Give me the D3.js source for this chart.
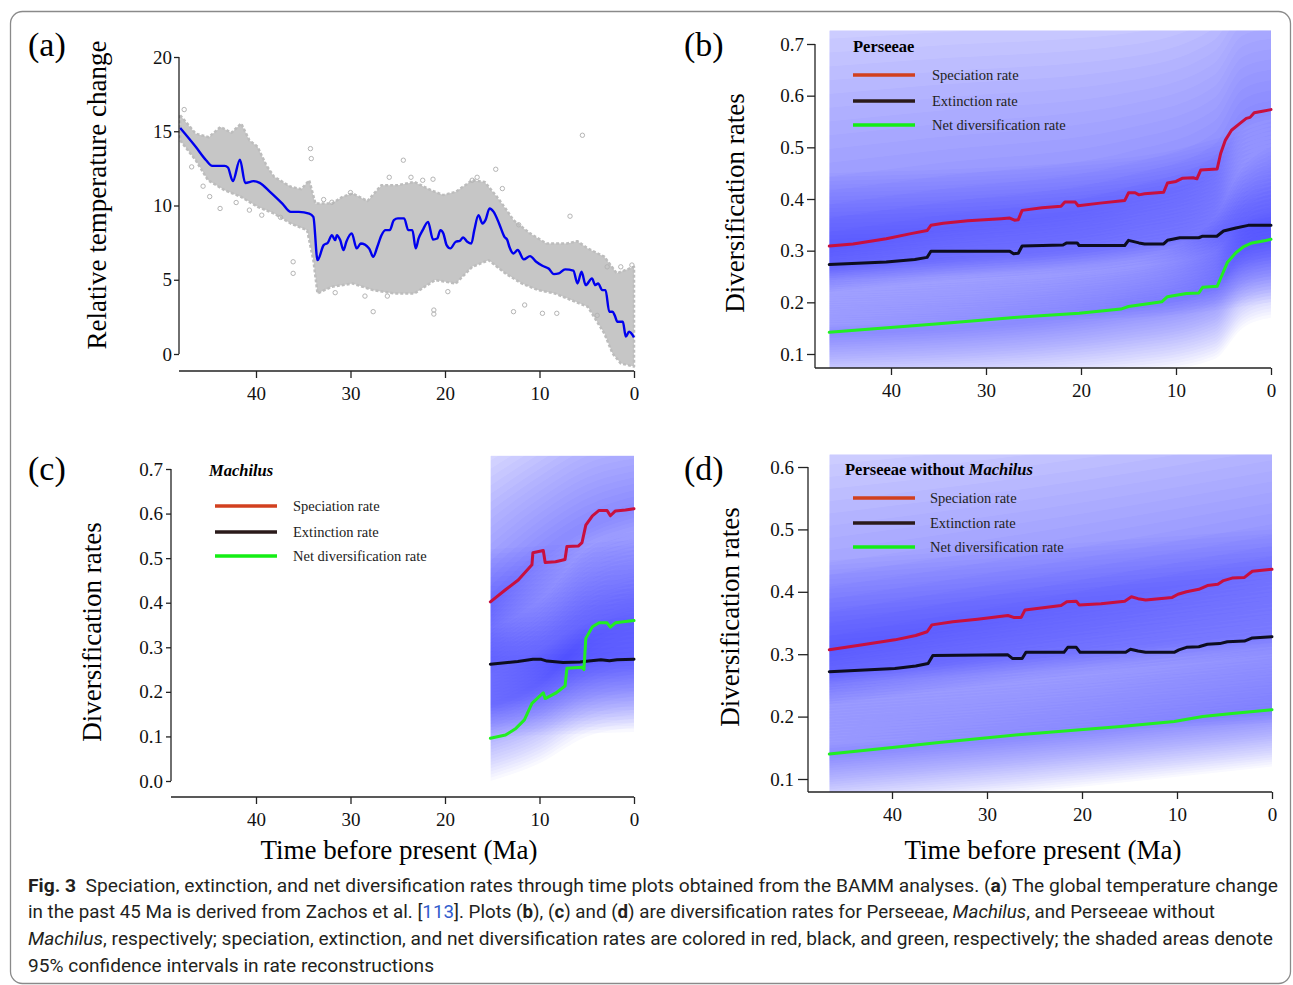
<!DOCTYPE html>
<html lang="en">

<head>
	<meta charset="UTF-8">
	<title>Diversification rates through time</title>
	<script src="https://d3js.org/d3.v7.min.js"></script>
	<style>
		body { margin: 0; background: #fff; }
		svg { display: block; }
	</style>
</head>

<body>
	<script>
		const width = 1293;
		const height = 985;
		const serif = "'Liberation Serif','Times New Roman',serif";
		const sans = "'Liberation Sans Narrow','Roboto','Liberation Sans',sans-serif";

		// ---- (a) temperature: [Ma, relative change]
		const tempSmooth = [
			[48.03, 15.22], [46.38, 13.95], [45.28, 13.05], [44.63, 12.67], [43.32, 12.67], [42.97, 12.56],
			[42.45, 11.64], [41.70, 13.09], [41.14, 11.52], [40.26, 11.64], [39.61, 11.52], [38.52, 10.92],
			[37.21, 10.13], [36.33, 9.57], [35.46, 9.57], [34.37, 9.46], [33.93, 9.24], [33.49, 6.32],
			[32.84, 7.33], [32.40, 7.49], [31.97, 8.00], [31.62, 7.67], [31.44, 8.00], [31.09, 7.67],
			[30.74, 7.00], [30.44, 7.56], [29.87, 8.12], [29.34, 7.11], [28.91, 7.44], [28.03, 7.11],
			[27.60, 6.55], [27.16, 7.22], [26.72, 8.00], [26.29, 8.34], [25.85, 8.34], [25.41, 9.01],
			[24.98, 9.13], [24.32, 9.13], [23.89, 8.34], [23.45, 8.34], [23.10, 7.11], [22.79, 7.78],
			[22.36, 8.34], [21.79, 8.90], [21.27, 7.71], [20.83, 7.78], [20.48, 8.34], [20.17, 8.12],
			[19.83, 7.33], [19.43, 7.11], [18.86, 7.56], [18.43, 7.62], [18.08, 7.85], [17.64, 7.56],
			[17.21, 7.44], [16.90, 8.34], [16.46, 9.35], [16.03, 8.79], [15.72, 9.01], [15.28, 9.80],
			[14.85, 9.57], [14.28, 8.79], [13.71, 7.89], [13.41, 7.67], [13.19, 7.22], [12.75, 6.77],
			[12.31, 7.00], [11.66, 6.37], [11.00, 6.59], [10.35, 6.21], [9.69, 5.94], [9.04, 5.76],
			[8.47, 5.38], [7.95, 5.43], [7.29, 5.70], [6.42, 5.61], [5.98, 4.75], [5.55, 5.54],
			[5.11, 4.64], [4.45, 5.09], [4.10, 4.64], [3.80, 4.75], [3.36, 4.30], [3.01, 4.30],
			[2.62, 2.85], [2.27, 2.85], [2.05, 2.62], [1.75, 2.17], [1.18, 2.17], [0.87, 1.17],
			[0.52, 1.50], [0.00, 1.12]
		];
		const tempCloudUpper = [
			[48.03, 16.08], [46.38, 14.84], [45.0, 14.6], [43.76, 15.29], [42.6, 14.9], [41.57, 15.52],
			[40.70, 14.39], [39.83, 13.95], [38.9, 12.7], [38.08, 11.93], [36.33, 11.26], [35.2, 11.1],
			[34.37, 11.70], [33.71, 10.13], [31.97, 10.13], [30.8, 10.6], [29.78, 10.81], [28.2, 10.3],
			[26.72, 11.37], [24.98, 11.37], [23.23, 11.59], [21.48, 11.03], [20.2, 10.7], [18.86, 10.92],
			[17.12, 11.70], [15.81, 11.59], [14.50, 10.58], [13.6, 9.8], [12.75, 9.01], [11.00, 8.12],
			[9.26, 7.44], [7.07, 7.44], [6.0, 7.6], [4.89, 7.11], [3.14, 6.55], [1.83, 5.43], [0, 5.87]
		];
		const tempCloudLower = [
			[48.03, 14.39], [46.38, 13.05], [45.07, 11.70], [43.32, 11.03], [41.57, 10.58], [39.83, 9.91],
			[38.08, 9.46], [36.33, 8.79], [34.59, 8.34], [33.93, 6.32], [33.49, 4.08], [31.97, 4.53],
			[29.78, 4.75], [27.60, 4.30], [25.41, 4.08], [23.23, 4.08], [21.05, 4.98], [18.86, 4.75],
			[17.12, 5.87], [15.37, 6.32], [13.62, 5.43], [11.88, 4.75], [10.13, 4.30], [8.38, 4.08],
			[6.64, 3.63], [4.89, 3.18], [3.14, 1.39], [2.27, 0.04], [1.40, -0.63], [0, -0.85]
		];
		const tempOutliers = [
			[47.60, 16.46], [34.24, 13.83], [34.15, 13.16], [36.07, 6.21], [36.07, 5.43], [24.41, 13.05],
			[14.63, 12.44], [5.46, 14.73], [6.77, 9.28], [27.60, 2.85], [21.18, 2.96], [21.18, 2.69],
			[11.57, 3.30], [12.75, 2.85], [8.17, 2.74], [9.69, 2.74], [31.62, 4.13], [28.47, 3.90],
			[43.80, 9.80], [46.81, 12.60], [40.70, 9.69], [39.39, 9.35], [32.84, 10.40], [31.97, 10.22],
			[30.00, 10.87], [22.36, 11.70], [21.27, 11.77], [17.12, 11.70], [13.93, 11.14], [2.84, 5.87],
			[1.40, 5.87], [0.22, 5.99], [44.9, 10.6], [45.6, 11.3], [42.1, 10.2], [37.4, 9.2],
			[25.9, 11.9], [23.6, 11.9], [16.6, 11.9], [12.2, 8.7], [26.1, 3.9], [19.7, 4.2], [3.9, 2.6]
		];
		const tempTicksY = [0, 5, 10, 15, 20];
		const timeTicks = [40, 30, 20, 10, 0];

		// ---- (b) Perseeae: [Ma, rate]
		const bSpeciation = [
			[46.5, 0.309], [44.0, 0.313], [40.5, 0.323], [37.9, 0.333], [36.2, 0.339], [35.8, 0.349],
			[34.5, 0.353], [31.9, 0.358], [28.4, 0.362], [27.5, 0.363], [27.0, 0.359], [26.6, 0.360],
			[26.2, 0.378], [24.1, 0.383], [22.1, 0.386], [21.7, 0.394], [20.6, 0.394], [20.3, 0.387],
			[18.0, 0.392], [15.4, 0.397], [15.0, 0.412], [14.3, 0.412], [13.9, 0.408], [13.3, 0.410],
			[11.3, 0.413], [10.9, 0.431], [10.0, 0.434], [9.35, 0.440], [8.2, 0.441], [7.8, 0.439],
			[7.4, 0.456], [5.67, 0.458], [5.3, 0.488], [4.8, 0.514], [4.16, 0.533], [3.3, 0.546],
			[2.6, 0.556], [2.2, 0.558], [1.77, 0.567], [0.9, 0.570], [0, 0.573]
		];
		const bExtinction = [
			[46.5, 0.273], [40.5, 0.278], [37.5, 0.283], [36.2, 0.287], [35.8, 0.299], [27.5, 0.299],
			[27.1, 0.294], [26.6, 0.295], [26.2, 0.309], [21.9, 0.311], [21.5, 0.315], [20.4, 0.315],
			[20.2, 0.310], [15.4, 0.310], [15.0, 0.320], [13.9, 0.315], [13.3, 0.313], [11.3, 0.313],
			[10.9, 0.320], [9.6, 0.325], [7.6, 0.325], [7.2, 0.328], [5.7, 0.328], [5.0, 0.338],
			[3.7, 0.344], [2.4, 0.349], [0, 0.349]
		];
		const bNetDiv = [
			[46.5, 0.142], [35.3, 0.158], [26.7, 0.171], [20.2, 0.179], [15.8, 0.187], [15.0, 0.192],
			[11.5, 0.201], [10.9, 0.211], [8.9, 0.217], [7.6, 0.218], [7.2, 0.229], [5.67, 0.231],
			[5.2, 0.251], [4.6, 0.277], [3.7, 0.296], [2.86, 0.308], [2.0, 0.315], [0.7, 0.319], [0, 0.322]
		];
		// 95% CI: [Ma, lower, densest, upper]
		const bSpeciationCI = [[46.5, 0.22, 0.31, 0.95], [36, 0.24, 0.34, 0.95], [15, 0.27, 0.40, 0.95], [6, 0.30, 0.46, 1.0], [3, 0.36, 0.55, 1.05], [0, 0.38, 0.57, 1.05]];
		const bExtinctionCI = [[46.5, 0.16, 0.27, 0.45], [15, 0.17, 0.31, 0.48], [0, 0.20, 0.35, 0.55]];
		const bNetDivCI = [[46.5, 0.03, 0.14, 0.24], [15, 0.06, 0.19, 0.28], [6, 0.09, 0.23, 0.36], [3, 0.15, 0.30, 0.46], [0, 0.17, 0.32, 0.50]];
		const bTicksY = [0.1, 0.2, 0.3, 0.4, 0.5, 0.6, 0.7];

		// ---- (c) Machilus
		const cSpeciation = [
			[15.2, 0.402], [13.6, 0.429], [12.25, 0.451], [10.8, 0.485], [10.7, 0.512], [9.6, 0.517],
			[9.4, 0.490], [8.3, 0.492], [7.3, 0.497], [7.1, 0.526], [5.9, 0.527], [5.5, 0.535],
			[5.1, 0.574], [4.4, 0.595], [3.7, 0.607], [2.85, 0.607], [2.5, 0.595], [1.97, 0.606],
			[0.9, 0.608], [0, 0.611]
		];
		const cExtinction = [
			[15.2, 0.262], [12.3, 0.268], [10.7, 0.273], [9.8, 0.273], [9.2, 0.269], [7.5, 0.266],
			[5.7, 0.267], [5.3, 0.268], [3.5, 0.272], [2.6, 0.270], [1.8, 0.272], [0, 0.273]
		];
		const cNetDiv = [
			[15.2, 0.096], [13.6, 0.103], [12.5, 0.118], [11.6, 0.137], [10.8, 0.174], [9.6, 0.198],
			[9.4, 0.185], [8.3, 0.197], [7.3, 0.213], [7.1, 0.253], [5.5, 0.255], [5.3, 0.250],
			[5.1, 0.320], [4.4, 0.346], [3.7, 0.355], [2.85, 0.355], [2.5, 0.345], [1.97, 0.355],
			[0.9, 0.358], [0, 0.360]
		];
		const cSpeciationCI = [[15.2, 0.24, 0.40, 0.85], [10, 0.30, 0.50, 0.90], [5, 0.36, 0.57, 0.95], [0, 0.38, 0.61, 0.95]];
		const cExtinctionCI = [[15.2, 0.10, 0.27, 0.52], [0, 0.11, 0.28, 0.54]];
		const cNetDivCI = [[15.2, 0.0, 0.17, 0.34], [10, 0.04, 0.22, 0.40], [5, 0.10, 0.32, 0.52], [0, 0.12, 0.36, 0.56]];
		const cTicksY = [0.0, 0.1, 0.2, 0.3, 0.4, 0.5, 0.6, 0.7];

		// ---- (d) Perseeae without Machilus
		const dSpeciation = [
			[46.6, 0.307], [43.1, 0.315], [39.7, 0.323], [37.5, 0.330], [36.3, 0.336], [35.8, 0.347],
			[33.6, 0.352], [31.0, 0.356], [27.8, 0.362], [27.2, 0.359], [26.4, 0.359], [26.0, 0.371],
			[22.2, 0.378], [21.6, 0.384], [20.6, 0.385], [20.3, 0.379], [18.0, 0.381], [15.5, 0.385],
			[14.8, 0.392], [14.1, 0.389], [13.3, 0.387], [10.5, 0.391], [9.9, 0.396], [9.0, 0.400],
			[7.7, 0.404], [6.8, 0.410], [5.7, 0.412], [5.1, 0.418], [4.2, 0.422], [2.9, 0.423],
			[2.07, 0.433], [0, 0.436]
		];
		const dExtinction = [
			[46.6, 0.272], [39.7, 0.277], [37.5, 0.281], [36.2, 0.285], [35.7, 0.298], [27.8, 0.299],
			[27.3, 0.293], [26.3, 0.293], [25.9, 0.303], [21.9, 0.303], [21.5, 0.311], [20.6, 0.311],
			[20.2, 0.303], [15.4, 0.303], [14.9, 0.308], [14.1, 0.305], [13.3, 0.303], [10.3, 0.303],
			[9.8, 0.307], [9.0, 0.311], [7.7, 0.312], [6.8, 0.316], [5.5, 0.317], [4.7, 0.320],
			[2.9, 0.321], [2.07, 0.326], [0, 0.328]
		];
		const dNetDiv = [
			[46.6, 0.140], [39.7, 0.151], [35.3, 0.158], [26.7, 0.171], [20.2, 0.179], [15.9, 0.184],
			[10.3, 0.192], [7.3, 0.200], [4.2, 0.205], [0, 0.211]
		];
		const dSpeciationCI = [[46.6, 0.22, 0.31, 0.78], [25, 0.26, 0.37, 0.80], [0, 0.30, 0.44, 0.85]];
		const dExtinctionCI = [[46.6, 0.16, 0.27, 0.45], [0, 0.19, 0.33, 0.50]];
		const dNetDivCI = [[46.6, 0.05, 0.14, 0.25], [25, 0.08, 0.17, 0.27], [0, 0.12, 0.21, 0.31]];
		const dTicksY = [0.1, 0.2, 0.3, 0.4, 0.5, 0.6];

		const legendLabels = ["Speciation rate", "Extinction rate", "Net diversification rate"];
		const lineColors = ["#c8103e", "#0d0d1f", "#22ee22"];
		const legendColors = ["#d2401f", "#2a1a1a", "#14ee14"];

		const svg = d3.select("body").append("svg")
			.attr("width", width)
			.attr("height", height);

		// outer frame
		svg.append("rect")
			.attr("x", 10.5).attr("y", 11.5)
			.attr("width", 1280).attr("height", 972)
			.attr("rx", 12)
			.attr("fill", "none")
			.attr("stroke", "#8a8a8a")
			.attr("stroke-width", 1.3);

		function panelLabel(txt, x, y) {
			svg.append("text")
				.attr("x", x).attr("y", y)
				.attr("font-family", serif)
				.attr("font-size", 34)
				.text(txt);
		}

		function styleAxis(sel) {
			sel.attr("font-family", serif).attr("font-size", 19);
			sel.select(".domain").remove();
			sel.selectAll(".tick line").attr("stroke", "#222").attr("stroke-width", 1.3);
			sel.selectAll(".tick text").attr("fill", "#111");
		}

		function drawAxes(x, y, opt) {
			const gy = svg.append("g")
				.attr("transform", `translate(${opt.yAxisX},0)`)
				.call(d3.axisLeft(y).tickValues(opt.yTicks).tickSize(opt.yTick).tickPadding(opt.yPad)
					.tickFormat(opt.yFormat));
			styleAxis(gy);
			svg.append("line")
				.attr("x1", opt.yAxisX).attr("x2", opt.yAxisX)
				.attr("y1", y(d3.max(opt.yTicks))).attr("y2", opt.yAxisBottom)
				.attr("stroke", "#222").attr("stroke-width", 1.3);

			const gx = svg.append("g")
				.attr("transform", `translate(0,${opt.xAxisY})`)
				.call(d3.axisBottom(x).tickValues(timeTicks).tickSize(7).tickPadding(8.5));
			styleAxis(gx);
			svg.append("line")
				.attr("x1", opt.yAxisX).attr("x2", x(0))
				.attr("y1", opt.xAxisY).attr("y2", opt.xAxisY)
				.attr("stroke", "#222").attr("stroke-width", 1.3);
		}

		function yTitle(txt, x, y) {
			svg.append("text")
				.attr("transform", `translate(${x},${y}) rotate(-90)`)
				.attr("text-anchor", "middle")
				.attr("font-family", serif)
				.attr("font-size", 27)
				.text(txt);
		}

		function xTitle(x, y) {
			svg.append("text")
				.attr("x", x).attr("y", y)
				.attr("text-anchor", "middle")
				.attr("font-family", serif)
				.attr("font-size", 27)
				.text("Time before present (Ma)");
		}

		// ---------- panel (a)
		const xA = d3.scaleLinear().domain([0, 40]).range([634, 256]);
		const yA = d3.scaleLinear().domain([0, 20]).range([354, 57]);

		const cloud = tempCloudUpper.concat(tempCloudLower.slice().reverse());
		svg.append("path")
			.datum(cloud)
			.attr("d", d3.line().x(d => xA(d[0])).y(d => yA(d[1])).curve(d3.curveLinearClosed))
			.attr("fill", "#c6c6c6")
			.attr("stroke", "#bdbdbd")
			.attr("stroke-width", 2.5)
			.attr("stroke-dasharray", "3 2")
			.attr("stroke-linejoin", "round");

		svg.append("g")
			.selectAll("circle")
			.data(tempOutliers)
			.enter().append("circle")
			.attr("cx", d => xA(d[0]))
			.attr("cy", d => yA(d[1]))
			.attr("r", 2.2)
			.attr("fill", "none")
			.attr("stroke", "#b4b4b4")
			.attr("stroke-width", 1);

		svg.append("path")
			.datum(tempSmooth)
			.attr("d", d3.line().x(d => xA(d[0])).y(d => yA(d[1])).curve(d3.curveMonotoneX))
			.attr("fill", "none")
			.attr("stroke", "#0000ee")
			.attr("stroke-width", 2.4);

		drawAxes(xA, yA, {
			yAxisX: 179, yAxisBottom: yA(0), xAxisY: 371, yTick: 5, yPad: 2,
			yTicks: tempTicksY, yFormat: d3.format("d")
		});
		yTitle("Relative temperature change", 106, 195);
		panelLabel("(a)", 28, 56);

		// ---------- rate panels
		const K = 24;
		const bandAlpha = 1 - Math.pow(0.5, 1 / K);

		function ratePanel(p) {
			const x = d3.scaleLinear().domain([0, 40]).range([p.x0, p.x40]);
			const y = d3.scaleLinear().domain(p.yDom).range(p.yRange);

			svg.append("clipPath").attr("id", "clip-" + p.id)
				.append("rect")
				.attr("x", x(p.tStart)).attr("y", y(p.vTop))
				.attr("width", x(0) - x(p.tStart))
				.attr("height", p.xAxisY - y(p.vTop));

			const shade = svg.append("g").attr("clip-path", `url(#clip-${p.id})`);
			p.cis.forEach(ci => {
				for (let k = 1; k <= K; k++) {
					const f = k / K;
					shade.append("path")
						.datum(ci)
						.attr("d", d3.area()
							.curve(d3.curveMonotoneX)
							.x(d => x(d[0]))
							.y0(d => y(d[2] - (d[2] - d[1]) * f))
							.y1(d => y(d[2] + (d[3] - d[2]) * f)))
						.attr("fill", "#1f1fee")
						.attr("fill-opacity", bandAlpha);
				}
			});

			p.series.forEach((s, i) => {
				svg.append("path")
					.datum(s)
					.attr("d", d3.line().x(d => x(d[0])).y(d => y(d[1])))
					.attr("fill", "none")
					.attr("stroke", lineColors[i])
					.attr("stroke-width", 3)
					.attr("stroke-linejoin", "round")
					.attr("stroke-linecap", "round");
			});

			drawAxes(x, y, {
				yAxisX: p.yAxisX, yAxisBottom: p.yAxisBottom, xAxisY: p.xAxisY,
				yTick: p.yTick, yPad: p.yPad,
				yTicks: p.yTicks, yFormat: d3.format(".1f")
			});

			// legend
			const title = svg.append("text")
				.attr("x", p.legX).attr("y", p.legTitleY)
				.attr("font-family", serif)
				.attr("font-size", 16.5)
				.attr("font-weight", "bold");
			p.title.forEach(part => {
				title.append("tspan").attr("font-style", part.italic ? "italic" : "normal").text(part.text);
			});
			const leg = svg.append("g").selectAll("g")
				.data(legendLabels)
				.enter().append("g")
				.attr("transform", (d, i) => `translate(${p.legLineX},${p.legRows[i]})`);
			leg.append("line")
				.attr("x1", 0).attr("x2", 62)
				.attr("stroke", (d, i) => legendColors[i])
				.attr("stroke-width", 3.5);
			leg.append("text")
				.attr("x", p.legTextX - p.legLineX)
				.attr("y", 5)
				.attr("font-family", serif)
				.attr("font-size", 14.5)
				.attr("fill", "#222")
				.text(d => d);
		}

		ratePanel({
			id: "b", x0: 1271, x40: 891, yDom: [0.1, 0.7], yRange: [354, 44],
			tStart: 46.5, vTop: 0.726, xAxisY: 368, yAxisX: 815, yAxisBottom: 368,
			yTick: 8, yPad: 3, yTicks: bTicksY,
			cis: [bSpeciationCI, bExtinctionCI, bNetDivCI],
			series: [bSpeciation, bExtinction, bNetDiv],
			title: [{ text: "Perseeae" }], legX: 853, legTitleY: 52,
			legLineX: 853, legTextX: 932, legRows: [75, 101, 125]
		});
		yTitle("Diversification rates", 744, 203);
		panelLabel("(b)", 684, 56);

		ratePanel({
			id: "c", x0: 634, x40: 256, yDom: [0, 0.7], yRange: [781, 469],
			tStart: 15.2, vTop: 0.73, xAxisY: 797, yAxisX: 171, yAxisBottom: 781,
			yTick: 5, yPad: 3, yTicks: cTicksY,
			cis: [cSpeciationCI, cExtinctionCI, cNetDivCI],
			series: [cSpeciation, cExtinction, cNetDiv],
			title: [{ text: "Machilus", italic: true }], legX: 209, legTitleY: 476,
			legLineX: 215, legTextX: 293, legRows: [506, 532, 556]
		});
		yTitle("Diversification rates", 101, 632);
		xTitle(399, 859);
		panelLabel("(c)", 28, 480);

		ratePanel({
			id: "d", x0: 1272, x40: 892, yDom: [0.1, 0.6], yRange: [779, 467],
			tStart: 46.6, vTop: 0.62, xAxisY: 792, yAxisX: 808, yAxisBottom: 792,
			yTick: 10, yPad: 4, yTicks: dTicksY,
			cis: [dSpeciationCI, dExtinctionCI, dNetDivCI],
			series: [dSpeciation, dExtinction, dNetDiv],
			title: [{ text: "Perseeae without " }, { text: "Machilus", italic: true }], legX: 845, legTitleY: 475,
			legLineX: 853, legTextX: 930, legRows: [498, 523, 547]
		});
		yTitle("Diversification rates", 739, 617);
		xTitle(1043, 859);
		panelLabel("(d)", 684, 480);

		// ---------- caption
		const captionLines = [
			{ y: 892, len: 1250, parts: [
				{ t: "Fig. 3", b: true }, { t: "  Speciation, extinction, and net diversification rates through time plots obtained from the BAMM analyses. (" },
				{ t: "a", b: true }, { t: ") The global temperature change" }] },
			{ y: 918, len: 1187, parts: [
				{ t: "in the past 45 Ma is derived from Zachos et al. [" }, { t: "113", link: true }, { t: "]. Plots (" },
				{ t: "b", b: true }, { t: "), (" }, { t: "c", b: true }, { t: ") and (" }, { t: "d", b: true },
				{ t: ") are diversification rates for Perseeae, " }, { t: "Machilus", i: true }, { t: ", and Perseeae without" }] },
			{ y: 945, len: 1245, parts: [
				{ t: "Machilus", i: true }, { t: ", respectively; speciation, extinction, and net diversification rates are colored in red, black, and green, respectively; the shaded areas denote" }] },
			{ y: 972, len: 406, parts: [{ t: "95% confidence intervals in rate reconstructions" }] }
		];

		captionLines.forEach(line => {
			const t = svg.append("text")
				.attr("x", 28).attr("y", line.y)
				.attr("font-family", sans)
				.attr("font-size", 18.5)
				.attr("fill", "#231f20")
				.attr("textLength", line.len)
				.attr("lengthAdjust", "spacingAndGlyphs")
				.attr("xml:space", "preserve")
				.style("white-space", "pre");
			line.parts.forEach(p => {
				t.append("tspan")
					.attr("font-weight", p.b ? "bold" : "normal")
					.attr("font-style", p.i ? "italic" : "normal")
					.attr("fill", p.link ? "#2f5ccc" : null)
					.text(p.t);
			});
		});
	</script>
</body>

</html>
